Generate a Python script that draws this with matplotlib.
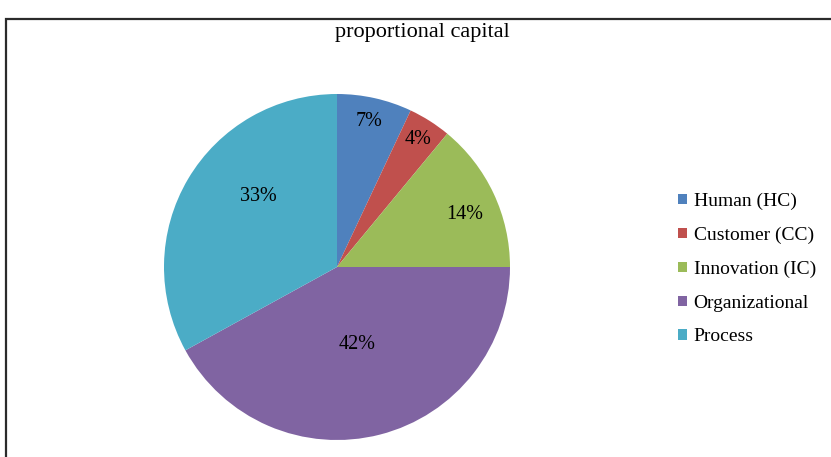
import matplotlib.pyplot as plt
from matplotlib.patches import Rectangle, Patch
import numpy as np

labels = ["Human (HC)", "Customer (CC)", "Innovation (IC)", "Organizational", "Process"]
values = [7, 4, 14, 42, 33]
colors = ["#4F81BD", "#C0504D", "#9BBB59", "#8064A2", "#4BACC6"]
# label placement (fraction of radius, angle shift in deg), roughly like Excel's best fit
label_r = [0.86, 0.87, 0.80, 0.46, 0.61]
label_shift = [0, 0, -3, 0, -11.5]

W, H = 831, 457
plt.rcParams['font.family'] = ['Liberation Serif', 'DejaVu Serif']

fig = plt.figure(figsize=(W / 100, H / 100), dpi=100)

# chart frame (only top and left edges show in the crop)
fig.patches.append(Rectangle((6 / W, -0.1), 1.2, (H - 19) / H + 0.1,
                             transform=fig.transFigure, fill=False,
                             edgecolor="#2b2b2b", linewidth=1.6))

# pie centre (337, 267) px, radius 173 px
r = 173
ax = fig.add_axes([(337 - r) / W, (H - 267 - r) / H, 2 * r / W, 2 * r / H])
wedges, texts, autotexts = ax.pie(values, colors=colors, startangle=90, counterclock=False,
                                  autopct="%d%%", radius=1.0,
                                  textprops=dict(fontsize=14.5, color="black"))
ax.set_xlim(-1, 1)
ax.set_ylim(-1, 1)

for w, t, d, s in zip(wedges, autotexts, label_r, label_shift):
    ang = np.deg2rad((w.theta1 + w.theta2) / 2 + s)
    t.set_position((d * np.cos(ang), d * np.sin(ang)))

fig.text(422 / W, 1 - 32 / H, "proportional capital", ha="center", va="center", fontsize=16)

handles = [Patch(facecolor=c, edgecolor="none") for c in colors]
fig.legend(handles, labels, loc="center left", bbox_to_anchor=(678 / W, 1 - 269 / H),
           frameon=False, fontsize=14, handlelength=0.45, handleheight=0.45,
           handletextpad=0.35, labelspacing=0.86, borderaxespad=0, borderpad=0)

fig.savefig("out.png", dpi=100)
